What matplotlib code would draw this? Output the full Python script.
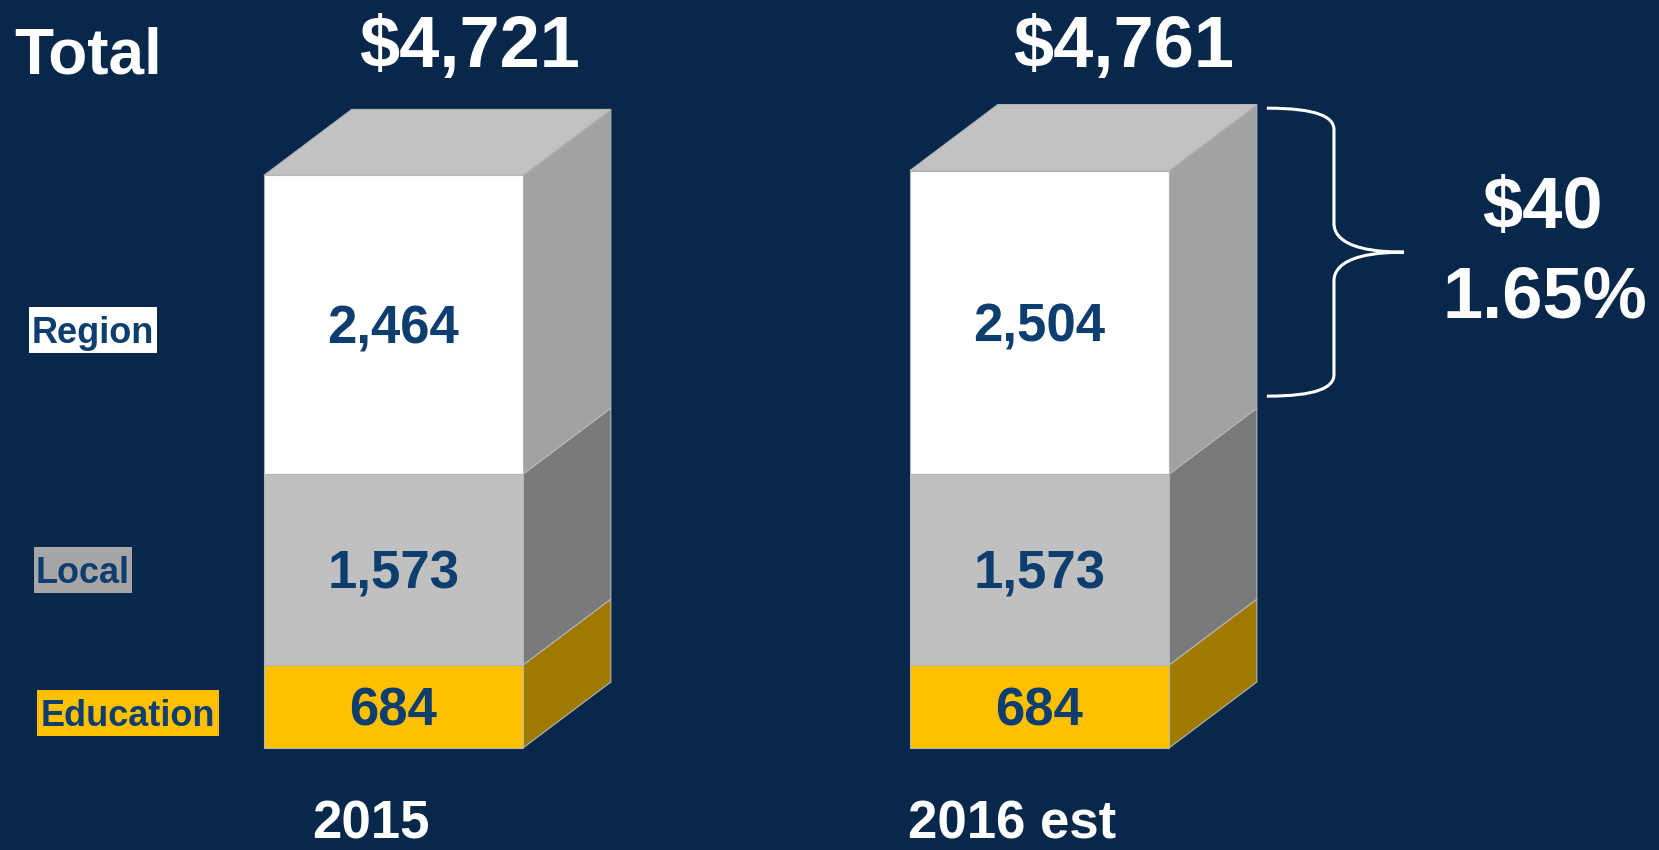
import matplotlib.pyplot as plt
from matplotlib.patches import Polygon, PathPatch, Rectangle
from matplotlib.path import Path

years = ["2015", "2016 est"]
education = [684, 684]
local = [1573, 1573]
region = [2464, 2504]
totals = ["$4,721", "$4,761"]
change_amount = "$40"
change_pct = "1.65%"

BG = "#07284a"
TEXT_BLUE = "#0e3e6f"
FONT = "Liberation Sans"

# front colour, side colour per segment
seg_styles = [
    ("Education", "#ffc000", "#a07a00"),
    ("Local", "#c0c0c0", "#7a7a7a"),
    ("Region", "#ffffff", "#a2a2a2"),
]
TOP_COLOR = "#c2c2c2"
EDGE = "#b5b5b5"

W, H = 1659, 850
YLIM = (-841, 6167)
BAR_W = 0.401
DX = 0.136   # depth offset in x units
DY = 544     # depth offset in value units
VAL_SIZE = 38


def brace(ax, x0, x1, ytop, ybot, **kw):
    """Right-pointing curly brace between ytop and ybot."""
    sx = x0 + 0.49 * (x1 - x0)
    ymid = (ytop + ybot) / 2
    h = ytop - ybot
    a = 0.15 * h / 2
    b = 0.2 * h / 2
    verts = [
        (x0, ytop),
        (x0 + 0.75 * (sx - x0), ytop), (sx, ytop - 0.4 * a), (sx, ytop - a),
        (sx, ymid + b),
        (sx, ymid + 0.4 * b), (sx + 0.3 * (x1 - sx), ymid), (x1, ymid),
        (sx + 0.3 * (x1 - sx), ymid), (sx, ymid - 0.4 * b), (sx, ymid - b),
        (sx, ybot + a),
        (sx, ybot + 0.4 * a), (x0 + 0.75 * (sx - x0), ybot), (x0, ybot),
    ]
    codes = [Path.MOVETO] + [Path.CURVE4] * 3 + [Path.LINETO] + [Path.CURVE4] * 6 \
        + [Path.LINETO] + [Path.CURVE4] * 3
    ax.add_patch(PathPatch(Path(verts, codes), fill=False, **kw))


def main():
    fig = plt.figure(figsize=(W / 100, H / 100), dpi=100, facecolor=BG)
    ax = fig.add_axes([0, 0, 1, 1])
    ax.set_facecolor(BG)
    ax.set_xlim(-0.609, 1.959)
    ax.set_ylim(*YLIM)
    ax.axis("off")

    units_per_px = (YLIM[1] - YLIM[0]) / H
    half_cap = 0.716 * VAL_SIZE / 72 * 100 * units_per_px / 2

    x = list(range(len(years)))
    segments = [education, local, region]
    bottoms = [0] * len(years)
    for (name, front, side), vals in zip(seg_styles, segments):
        ax.bar(x, vals, width=BAR_W, bottom=bottoms, color=front,
               edgecolor=EDGE, linewidth=0.8, zorder=3)
        for i in x:
            xr = i + BAR_W / 2
            y0 = bottoms[i]
            y1 = y0 + vals[i]
            ax.add_patch(Polygon([(xr, y0), (xr + DX, y0 + DY),
                                  (xr + DX, y1 + DY), (xr, y1)],
                                 closed=True, facecolor=side,
                                 edgecolor=EDGE, linewidth=0.8, zorder=2))
            ax.text(i, y0 + vals[i] / 2 - half_cap, f"{vals[i]:,}",
                    ha="center", va="baseline", fontsize=VAL_SIZE,
                    fontweight="bold", color=TEXT_BLUE, family=FONT,
                    zorder=4)
        bottoms = [b + v for b, v in zip(bottoms, vals)]

    # top faces
    for i in x:
        xl, xr, t = i - BAR_W / 2, i + BAR_W / 2, bottoms[i]
        ax.add_patch(Polygon([(xl, t), (xl + DX, t + DY),
                              (xr + DX, t + DY), (xr, t)],
                             closed=True, facecolor=TOP_COLOR,
                             edgecolor=EDGE, linewidth=0.8, zorder=2))

    # brace on the 2016 bar, spanning the region segment
    bx0 = x[1] + BAR_W / 2 + DX + 0.0155
    brace(ax, bx0, bx0 + 0.212, bottoms[1] + DY - 30,
          education[1] + local[1] + DY + 100,
          edgecolor="white", linewidth=2.2, zorder=5)

    txt = dict(color="white", fontweight="bold", family=FONT,
               ha="center", va="baseline")
    fig.text(0.053, 0.913, "Total", fontsize=46, **txt)
    fig.text(0.2833, 0.921, totals[0], fontsize=52, **txt)
    fig.text(0.677, 0.921, totals[1], fontsize=52, **txt)
    fig.text(0.930, 0.732, change_amount, fontsize=52, **txt)
    fig.text(0.931, 0.627, change_pct, fontsize=52, **txt)
    txt["va"] = "bottom"
    fig.text(0.2236, 0.001, years[0], fontsize=38, **txt)
    fig.text(0.610, 0.001, years[1], fontsize=38, **txt)

    # legend boxes (pixel boxes from the slide, converted to figure coords)
    legend = [
        ("Region", "#ffffff", (29, 307, 157, 353), 343),
        ("Local", "#a6a6a6", (34, 547, 132, 593), 583),
        ("Education", "#ffc000", (37, 690, 219, 736), 726),
    ]
    for label, color, (l, t, r, b), base in legend:
        fig.patches.append(Rectangle((l / W, 1 - b / H), (r - l) / W,
                                     (b - t) / H, transform=fig.transFigure,
                                     facecolor=color, edgecolor="none"))
        fig.text((l + r) / 2 / W, 1 - base / H, label, color=TEXT_BLUE,
                 fontweight="bold", family=FONT, ha="center",
                 va="baseline", fontsize=26)

    fig.savefig("out.png", dpi=100, facecolor=BG)


if __name__ == "__main__":
    main()
